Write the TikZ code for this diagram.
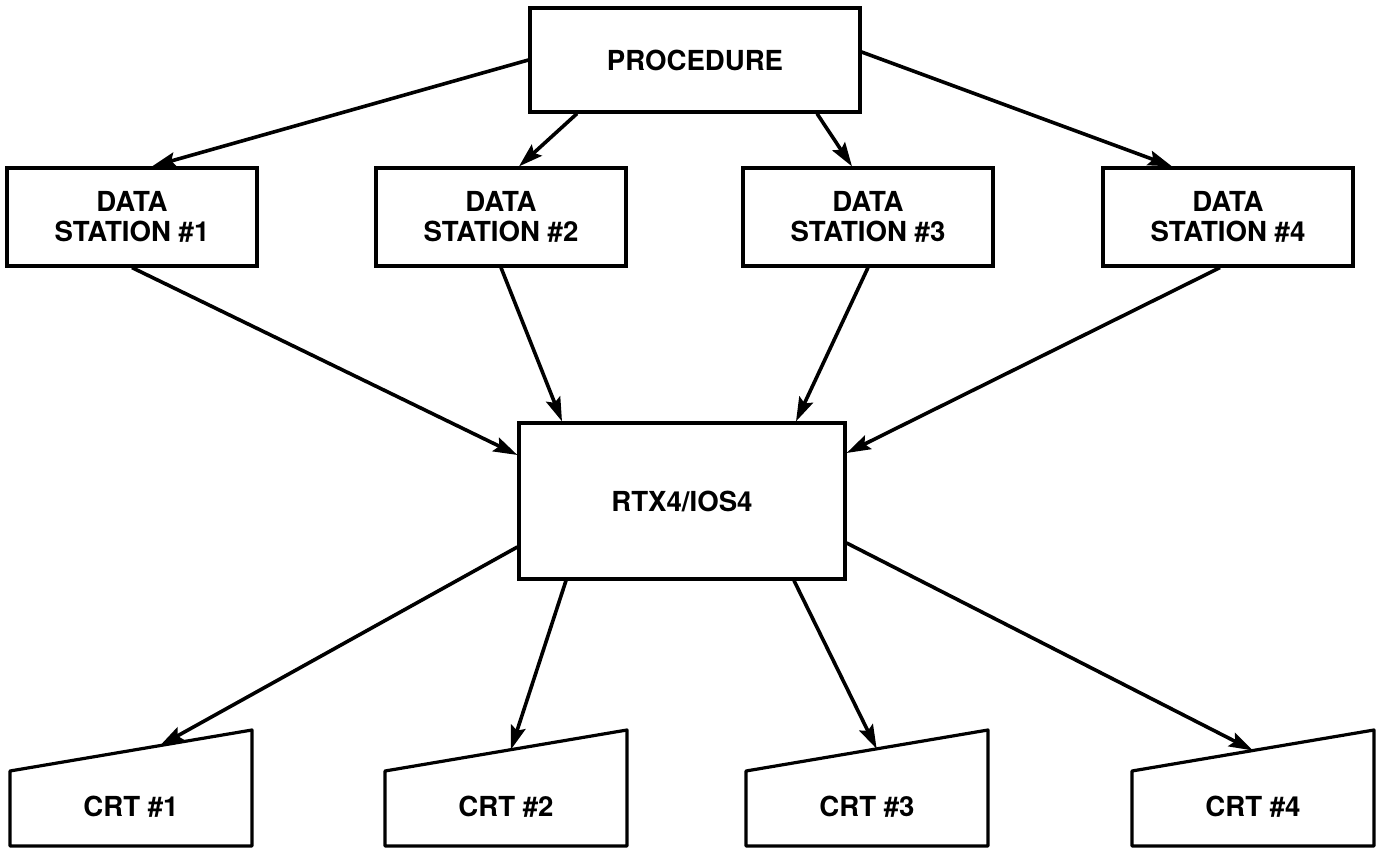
\documentclass[tikz,border=0pt]{standalone}
\usepackage{fontspec}
\setmainfont{TeX Gyre Heros}
\usetikzlibrary{arrows.meta,positioning,calc}
\tikzset{
	block/.style={
		rectangle,
		line width=1.6pt,
		draw=black,
		fill=white,
		minimum height=49pt,
		minimum width=125pt,
		align=center,
		font=\fontsize{13.8}{15}\selectfont\bfseries
	},
	bigblock/.style={
		block,
		minimum width=165pt,
		minimum height=52pt
	},
	crt/.style={
		inner sep=0pt,
		font=\fontsize{13.8}{15}\selectfont\bfseries
	},
	outline/.style={
		line width=1.6pt,
		draw=black,
		line join=round
	},
	arrow/.style={
		draw=black,
		line width=1.8pt,
		-{Stealth[length=12pt,width=7.5pt,inset=2pt]}
	},
}

\begin{document}
\begin{tikzpicture}[x=0.5pt,y=-0.5pt]
\useasboundingbox (0,0) rectangle (1382,849);

\node [bigblock] (proc) at (695,60) {PROCEDURE};
\node [block] (ds1) at (132,217) {DATA\\STATION \#1};
\node [block] (ds2) at (501,217) {DATA\\STATION \#2};
\node [block] (ds3) at (868,217) {DATA\\STATION \#3};
\node [block] (ds4) at (1228,217) {DATA\\STATION \#4};
\node [bigblock,minimum width=163pt,minimum height=78pt] (rtx) at (682,501) {RTX4/IOS4};

% terminals, slanted top
\foreach \n/\x/\f in {1/131/0.62,2/506/0.52,3/867/0.54,4/1253/0.5}{
	\node [crt] (crt\n) at (\x,807) {CRT \#\n};
	\draw [outline] ([shift={(-121,39)}]crt\n.center) -- ++(0,-75) coordinate (crt\n-tl)
		-- ++(242,-41) coordinate (crt\n-tr) -- ++(0,116) -- cycle;
	\coordinate (crt\n-in) at ($(crt\n-tl)!\f!(crt\n-tr)$);
}

\draw[arrow] (proc.west) -- ([xshift=10pt]ds1.north);
\draw[arrow] ([xshift=-59pt]proc.south) -- ([xshift=9pt]ds2.north);
\draw[arrow] ([xshift=61pt]proc.south) -- ([xshift=-8pt]ds3.north);
\draw[arrow] ([yshift=4pt]proc.east) -- ([xshift=-28pt]ds4.north);

\draw[arrow] (ds1.south) -- ([yshift=23pt]rtx.west);
\draw[arrow] (ds2.south) -- ([xshift=-60pt]rtx.north);
\draw[arrow] (ds3.south) -- ([xshift=57pt]rtx.north);
\draw[arrow] ([xshift=-4pt]ds4.south) -- ([yshift=24pt]rtx.east);

\draw[arrow] ([yshift=-23pt]rtx.west) -- (crt1-in);
\draw[arrow] ([xshift=-58pt]rtx.south) -- (crt2-in);
\draw[arrow] ([xshift=56pt]rtx.south) -- (crt3-in);
\draw[arrow] ([yshift=-21pt]rtx.east) -- (crt4-in);
\end{tikzpicture}
\end{document}
